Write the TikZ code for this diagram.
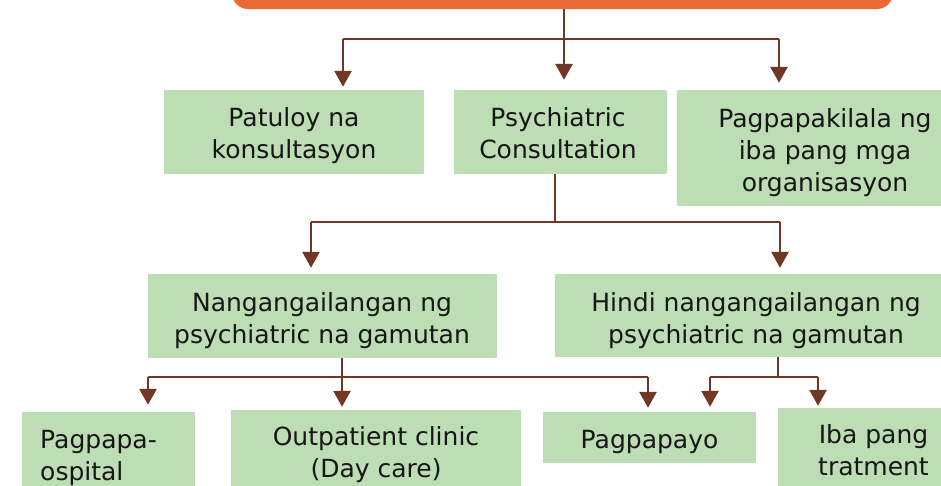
\documentclass[tikz,border=0pt]{standalone}
\usepackage{fontspec}
\setmainfont{DejaVu Sans}
\usetikzlibrary{arrows.meta}
\definecolor{boxgreen}{RGB}{189,221,181}
\definecolor{toporange}{RGB}{232,107,51}
\definecolor{linkbrown}{RGB}{112,56,36}
\definecolor{inkgray}{RGB}{22,22,22}
\tikzset{
	greenbox/.style={fill=boxgreen, inner sep=0pt},
	boxtext/.style={inner sep=0pt, text=inkgray, align=center, font=\fontsize{25}{32}\selectfont},
	bar/.style={draw=linkbrown, line width=1.6pt},
	arr/.style={draw=linkbrown, line width=2.8pt, -{Triangle[width=17pt,length=16pt]}},
}

\begin{document}
\begin{tikzpicture}[x=1pt, y=-1pt]
				\useasboundingbox (0,0) rectangle (941,485);
				\node[fill=toporange, rounded corners=16pt, inner sep=0pt, minimum width=661pt, minimum height=60pt] (top) at (562.5,-21) {};
				\node[greenbox, minimum width=260pt, minimum height=84pt] (patuloy) at (294,132) {};
				\node[greenbox, minimum width=213pt, minimum height=84pt] (psych) at (560.5,132) {};
				\node[greenbox, minimum width=303pt, minimum height=116pt] (ibaorg) at (828.5,148) {};
				\node[greenbox, minimum width=349pt, minimum height=84pt] (nang) at (322.5,316) {};
				\node[greenbox, minimum width=402pt, minimum height=83pt] (hindi) at (756,315.5) {};
				\node[greenbox, minimum width=173pt, minimum height=96pt] (pagpapa) at (108.5,460) {};
				\node[greenbox, minimum width=290pt, minimum height=100pt] (outpatient) at (376,460) {};
				\node[greenbox, minimum width=213pt, minimum height=51pt] (pagpapayo) at (649.5,437.5) {};
				\node[greenbox, minimum width=190pt, minimum height=104pt] (ibatrat) at (873,460) {};
				\node[boxtext] (patuloyText) at (294,136) {Patuloy na\\konsultasyon};
				\node[boxtext] (psychText) at (558,133) {Psychiatric\\Consultation};
				\node[boxtext] (ibaorgText) at (825,153) {Pagpapakilala ng\\iba pang mga\\organisasyon};
				\node[boxtext] (nangText) at (322,321) {Nangangailangan ng\\psychiatric na gamutan};
				\node[boxtext] (hindiText) at (756,321) {Hindi nangangailangan ng\\psychiatric na gamutan};
				\node[boxtext, align=left, anchor=west] (pagpapaText) at (40,458) {Pagpapa-\\ospital};
				\node[boxtext] (outpatientText) at (376,455) {Outpatient clinic\\(Day care)};
				\node[boxtext] (pagpapayoText) at (649.5,442) {Pagpapayo};
				\node[boxtext] (ibatratText) at (873.5,450) {Iba pang\\tratment};
				\coordinate (j0) at (564,39);
				\coordinate (j0l) at (343,39);
				\coordinate (j0r) at (779,39);
				\coordinate (j1) at (555,222);
				\coordinate (j1l) at (311,222);
				\coordinate (j1r) at (780,222);
				\coordinate (j2) at (342,377);
				\coordinate (j2l) at (148,377);
				\coordinate (j2r) at (648,377);
				\coordinate (j3) at (778,377);
				\coordinate (j3l) at (710,377);
				\coordinate (j3r) at (818,377);
				\draw[bar] (j0l) -- (j0r);
				\draw[arr, shorten >=10pt] (j0 |- top.south) -- (j0 |- psych.north);
				\draw[arr, shorten >=3pt] (j0l) -- (j0l |- patuloy.north);
				\draw[arr, shorten >=7pt] (j0r) -- (j0r |- ibaorg.north);
				\draw[bar] (j1 |- psych.south) -- (j1);
				\draw[bar] (j1l) -- (j1r);
				\draw[arr, shorten >=6pt] (j1l) -- (j1l |- nang.north);
				\draw[arr, shorten >=6pt] (j1r) -- (j1r |- hindi.north);
				\draw[bar] (j2 |- nang.south) -- (j2);
				\draw[bar] (j2l) -- (j2r);
				\draw[arr, shorten >=7pt] (j2l) -- (j2l |- pagpapa.north);
				\draw[arr, shorten >=3pt] (j2) -- (j2 |- outpatient.north);
				\draw[arr, shorten >=4pt] (j2r) -- (j2r |- pagpapayo.north);
				\draw[bar] (j3 |- hindi.south) -- (j3);
				\draw[bar] (j3l) -- (j3r);
				\draw[arr, shorten >=5pt] (j3l) -- (j3l |- pagpapayo.north);
				\draw[arr, shorten >=2pt] (j3r) -- (j3r |- ibatrat.north);
			\end{tikzpicture}
\end{document}
